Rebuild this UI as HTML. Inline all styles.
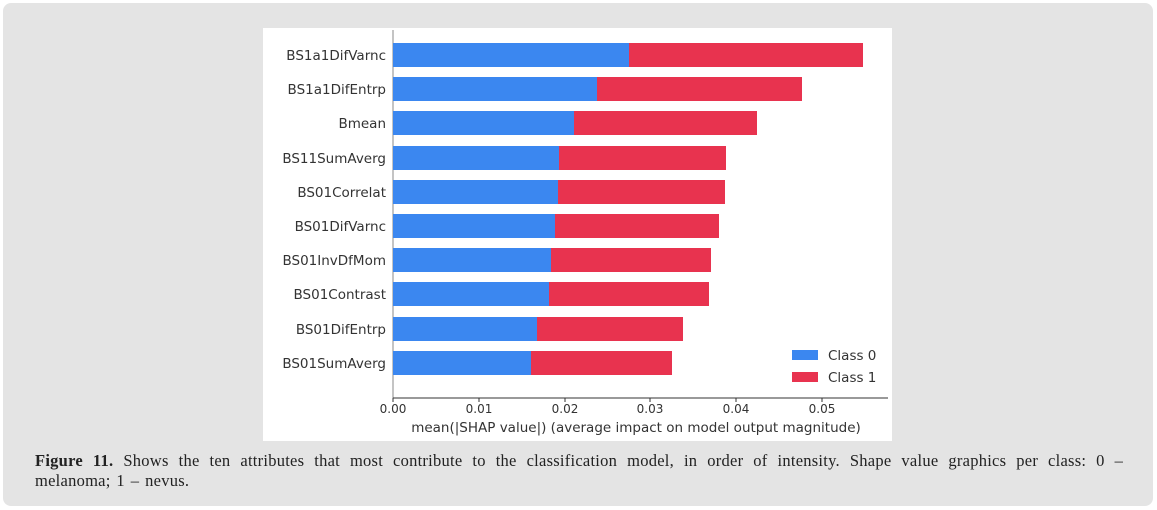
<!DOCTYPE html>
<html><head><style>
body{margin:0;width:1157px;height:510px;background:#fff;overflow:hidden;position:relative;font-family:"Liberation Sans",sans-serif}
.panel{position:absolute;left:3px;top:3px;width:1150px;height:503px;background:#e4e4e4;border-radius:8px}
.cap{position:absolute;left:35px;top:451px;width:1110px;font-family:"Liberation Serif",serif;font-size:16.5px;letter-spacing:0.25px;word-spacing:5.6px;line-height:20px;color:#222;white-space:nowrap}
</style></head><body>
<div class="panel"></div>
<svg style="position:absolute;left:0;top:0" width="1157" height="510" font-family="DejaVu Sans, sans-serif" fill="#333">
<rect x="263" y="28" width="629" height="413" fill="#fff"/>
<line x1="393" y1="30" x2="393" y2="398" stroke="#888"/>
<line x1="393" y1="398" x2="888" y2="398" stroke="#333"/>
<g>
<rect x="393" y="43" width="236" height="24" fill="#3b87f0"/><rect x="629" y="43" width="234" height="24" fill="#e8334f"/>
<rect x="393" y="77" width="204" height="24" fill="#3b87f0"/><rect x="597" y="77" width="205" height="24" fill="#e8334f"/>
<rect x="393" y="111" width="181" height="24" fill="#3b87f0"/><rect x="574" y="111" width="183" height="24" fill="#e8334f"/>
<rect x="393" y="146" width="166" height="24" fill="#3b87f0"/><rect x="559" y="146" width="167" height="24" fill="#e8334f"/>
<rect x="393" y="180" width="165" height="24" fill="#3b87f0"/><rect x="558" y="180" width="167" height="24" fill="#e8334f"/>
<rect x="393" y="214" width="162" height="24" fill="#3b87f0"/><rect x="555" y="214" width="164" height="24" fill="#e8334f"/>
<rect x="393" y="248" width="158" height="24" fill="#3b87f0"/><rect x="551" y="248" width="160" height="24" fill="#e8334f"/>
<rect x="393" y="282" width="156" height="24" fill="#3b87f0"/><rect x="549" y="282" width="160" height="24" fill="#e8334f"/>
<rect x="393" y="317" width="144" height="24" fill="#3b87f0"/><rect x="537" y="317" width="146" height="24" fill="#e8334f"/>
<rect x="393" y="351" width="138" height="24" fill="#3b87f0"/><rect x="531" y="351" width="141" height="24" fill="#e8334f"/>
</g>
<g font-size="13.5" text-anchor="end">
<text x="386" y="60">BS1a1DifVarnc</text>
<text x="386" y="94">BS1a1DifEntrp</text>
<text x="386" y="128">Bmean</text>
<text x="386" y="163">BS11SumAverg</text>
<text x="386" y="197">BS01Correlat</text>
<text x="386" y="231">BS01DifVarnc</text>
<text x="386" y="265">BS01InvDfMom</text>
<text x="386" y="299">BS01Contrast</text>
<text x="386" y="334">BS01DifEntrp</text>
<text x="386" y="368">BS01SumAverg</text>
</g>
<g stroke="#333">
<line x1="393" y1="398" x2="393" y2="402"/><line x1="479" y1="398" x2="479" y2="402"/><line x1="565" y1="398" x2="565" y2="402"/><line x1="650" y1="398" x2="650" y2="402"/><line x1="736" y1="398" x2="736" y2="402"/><line x1="822" y1="398" x2="822" y2="402"/>
</g>
<g font-size="12" text-anchor="middle">
<text x="393" y="413">0.00</text><text x="479" y="413">0.01</text><text x="565" y="413">0.02</text><text x="650" y="413">0.03</text><text x="736" y="413">0.04</text><text x="822" y="413">0.05</text>
</g>
<text x="636" y="432" text-anchor="middle" font-size="13.5">mean(|SHAP value|) (average impact on model output magnitude)</text>
<rect x="792" y="350" width="26" height="10" fill="#3b87f0"/><text x="828" y="360" font-size="13.5">Class 0</text>
<rect x="792" y="372" width="26" height="10" fill="#e8334f"/><text x="828" y="382" font-size="13.5">Class 1</text>
</svg>
<div class="cap"><b>Figure 11.</b> Shows the ten attributes that most contribute to the classification model, in order of intensity. Shape value graphics per class: 0 –<br><span style="word-spacing:1.5px">melanoma; 1 – nevus.</span></div>
</body></html>
